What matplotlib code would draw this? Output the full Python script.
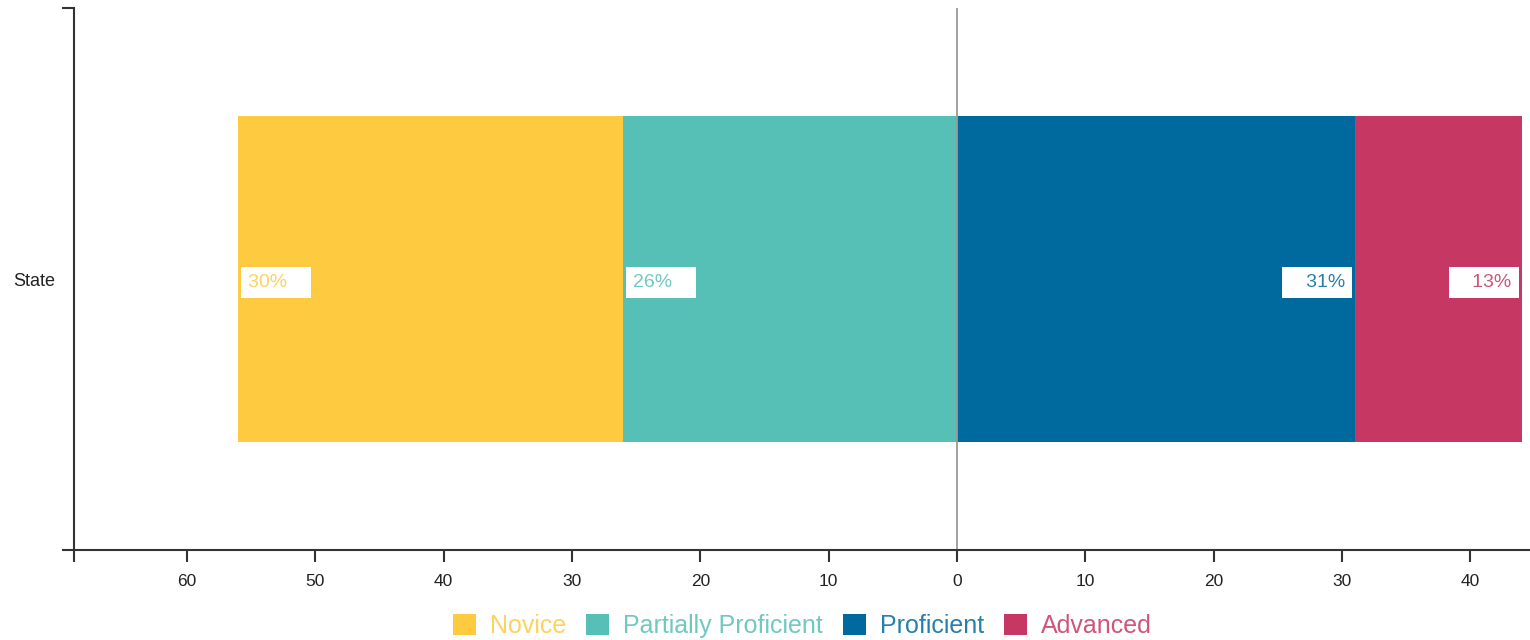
import numpy as np
import matplotlib
matplotlib.use("Agg")
import matplotlib.pyplot as plt
from matplotlib.patches import Patch

plt.rcParams['font.family'] = ['Liberation Sans', 'DejaVu Sans']

levels = ['Novice', 'Partially Proficient', 'Proficient', 'Advanced']
pcts = [30, 26, 31, 13]
colors = ['#FDCA40', '#56C0B6', '#006A9E', '#C73763']
group = 'State'
xticks = [-60, -50, -40, -30, -20, -10, 0, 10, 20, 30, 40]

# below-proficient levels go left of zero, the rest go right
neg_idx = [1, 0]
pos_idx = [2, 3]

fig = plt.figure(figsize=(15.3, 6.4), dpi=100)
ax = fig.add_axes([74 / 1530, 90 / 640, 1456 / 1530, 542 / 640])

box = dict(boxstyle='square,pad=0.38', fc='white', ec='none')

left = 0
for i in neg_idx:
    left -= pcts[i]
    ax.barh(0, pcts[i], left=left, height=0.6, color=colors[i], zorder=2)
    ax.annotate(f"{pcts[i]}%   ", xy=(left, 0), xytext=(7.2, -2.5),
                textcoords='offset points', ha='left', va='center',
                fontsize=14, color=colors[i], alpha=0.85, zorder=4, bbox=box)

left = 0
for i in pos_idx:
    ax.barh(0, pcts[i], left=left, height=0.6, color=colors[i], zorder=2)
    left += pcts[i]
    ax.annotate(f"   {pcts[i]}%", xy=(left, 0), xytext=(-7.2, -2.5),
                textcoords='offset points', ha='right', va='center',
                fontsize=14, color=colors[i], alpha=0.85, zorder=4, bbox=box)

ax.axvline(0, color='#9a9a9a', lw=1.3, zorder=3)

xmin, xmax = -68.81, 44.65
ax.set_xlim(xmin, xmax)
ax.set_ylim(-0.5, 0.5)

for s in ['top', 'right']:
    ax.spines[s].set_visible(False)
for s in ['left', 'bottom']:
    ax.spines[s].set_color('#333333')
    ax.spines[s].set_linewidth(1.5)
    ax.spines[s].set_zorder(5)

# x axis: outer tick at the left end plus labelled ticks
ax.set_xticks([xmin] + xticks)
ax.set_xticklabels([''] + [str(abs(t)) for t in xticks])
ax.tick_params(axis='x', length=8.6, width=1.5, color='#333333',
               labelsize=12.5, labelcolor='#222222', pad=8.5)

# y axis: outer ticks at both ends, category name on a bare minor tick
ax.set_yticks([-0.5, 0.5])
ax.set_yticklabels(['', ''])
ax.tick_params(axis='y', which='major', length=8.6, width=1.5, color='#333333')
ax.set_yticks([0], minor=True)
ax.set_yticklabels([group], minor=True)
ax.tick_params(axis='y', which='minor', length=0, labelsize=13,
               labelcolor='#222222', pad=13.5)

handles = [Patch(facecolor=c, edgecolor='none') for c in colors]
leg = ax.legend(handles, levels, loc='center', bbox_to_anchor=(0.5, -0.14),
                ncol=4, frameon=False, fontsize=18, handlelength=0.92,
                handleheight=0.92, handletextpad=0.56, columnspacing=0.8,
                borderaxespad=0)
for t, c in zip(leg.get_texts(), colors):
    t.set_color(c)
    t.set_alpha(0.85)

fig.savefig('out.png', dpi=100, facecolor='white')
